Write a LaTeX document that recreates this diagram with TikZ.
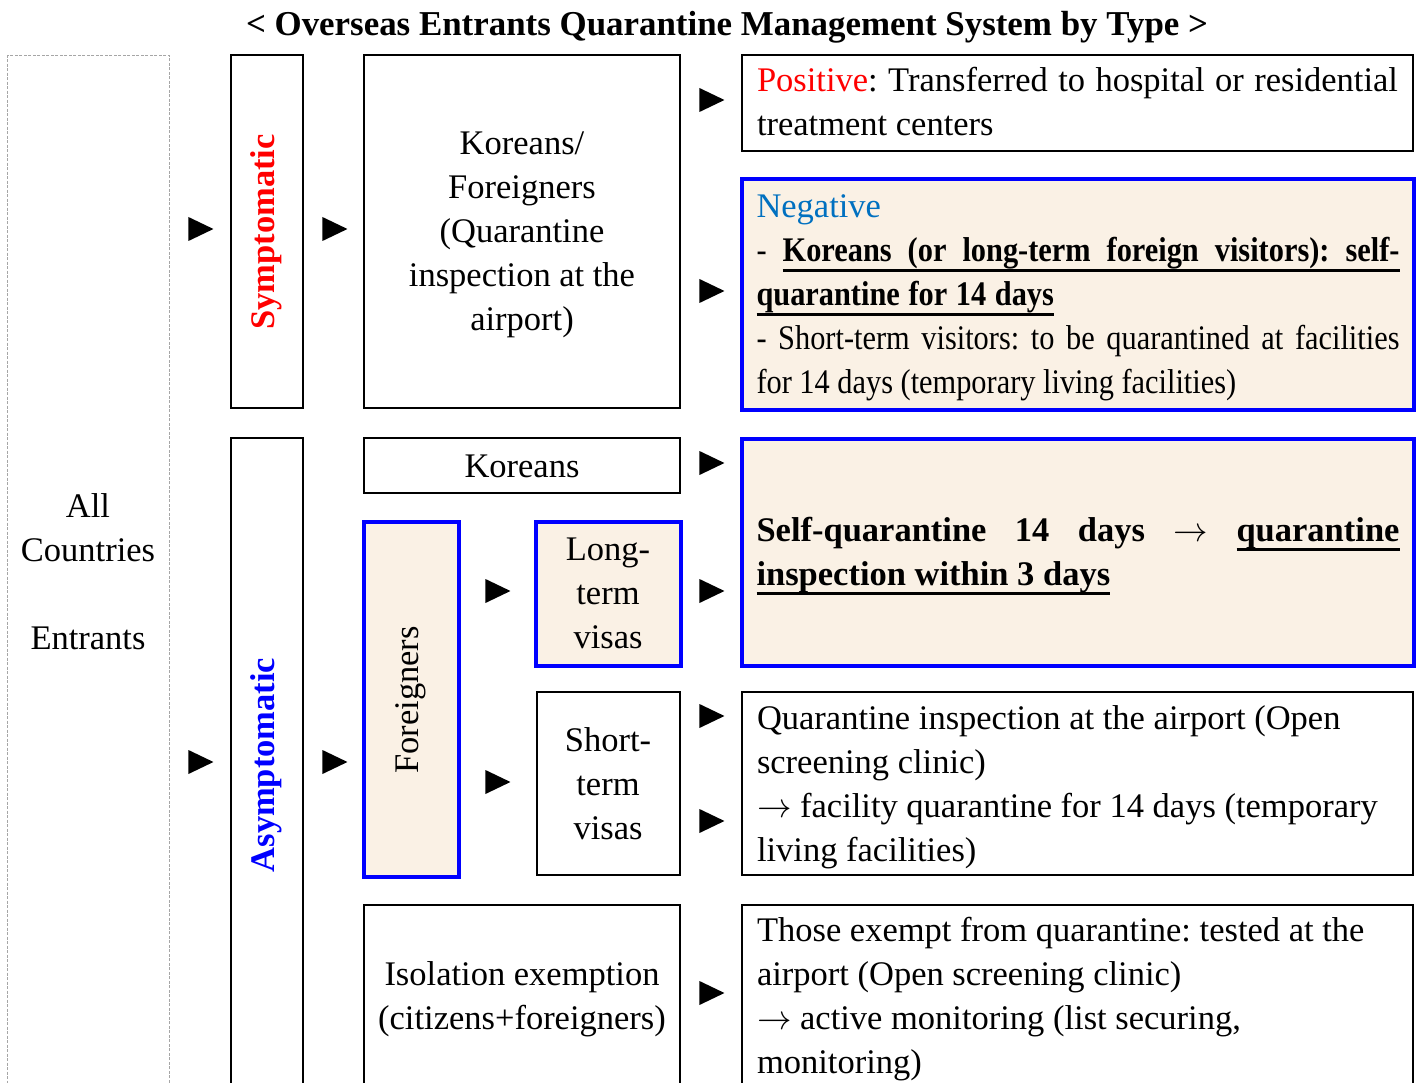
\RequirePackage{fix-cm}
\documentclass[tikz,border=0pt]{standalone}
\usepackage{fontspec}
\setmainfont{Liberation Serif}
\newfontfamily\condfont{Liberation Serif}[FakeStretch=0.88]
\usetikzlibrary{shapes.geometric}
\definecolor{beige}{HTML}{FAF1E5}
\definecolor{negblue}{HTML}{0070C0}
\frenchspacing
\newcommand\uw[1]{\leavevmode\setbox0\hbox{#1}\rlap{\rule[-10pt]{\wd0}{2.8pt}}\box0}
\newcommand\us{\leaders\hrule height -7.2pt depth 10pt\hskip .25em plus 1fil\relax}
\newcommand\un{\leaders\hrule height -7.2pt depth 10pt\hskip .25em\relax}
\newcommand\js{\hskip .25em plus 1fil\relax}
\newcommand\arr{$\rightarrow$}
\begin{document}
\begin{tikzpicture}[x=1pt,y=-1pt,
  every node/.style={font=\fontsize{34.5pt}{44pt}\selectfont},
  box/.style={draw=black, line width=1.3pt, inner sep=0pt, outer sep=0pt, anchor=north west},
  bluebox/.style={draw=blue, line width=3.6pt, fill=beige, inner sep=0pt, outer sep=0pt, anchor=north west},
  graybox/.style={draw=gray!70, line width=1.4pt, dash pattern=on 3pt off 1.5pt, inner sep=0pt, anchor=north west},
  tri/.style={isosceles triangle, isosceles triangle stretches=true, fill=black, inner sep=0pt,
              minimum width=24pt, minimum height=25pt},
  txt/.style={inner sep=0pt, align=center},
  para/.style={inner sep=0pt, text width=641pt, align=flush left}]
\clip (0,0) rectangle (1419,1083);
\useasboundingbox (0,0) rectangle (1419,1083);

% title
\node[txt, font=\fontsize{34.9pt}{44pt}\selectfont\bfseries] (title) at (727,27) {< Overseas Entrants Quarantine Management System by Type >};

% boxes
\node[graybox, minimum width=162pt, minimum height=1045pt] (all) at (7,55) {};
\node[box, minimum width=72pt, minimum height=353pt] (symp) at (231,55) {};
\node[box, minimum width=72pt, minimum height=662pt] (asymp) at (231,438) {};
\node[box, minimum width=316pt, minimum height=353pt] (kf) at (364,55) {};
\node[box, minimum width=671pt, minimum height=96pt] (pos) at (742,55) {};
\node[bluebox, minimum width=672pt, minimum height=231pt] (neg) at (742,179) {};
\node[box, minimum width=316pt, minimum height=55pt] (kor) at (364,438) {};
\node[bluebox, minimum width=95pt, minimum height=355pt] (forg) at (364,522) {};
\node[bluebox, minimum width=145pt, minimum height=144pt] (long) at (536,522) {};
\node[bluebox, minimum width=672pt, minimum height=227pt] (self) at (742,439) {};
\node[box, minimum width=143pt, minimum height=183pt] (short) at (537,692) {};
\node[box, minimum width=671pt, minimum height=183pt] (quar) at (742,692) {};
\node[box, minimum width=316pt, minimum height=195pt] (iso) at (364,905) {};
\node[box, minimum width=671pt, minimum height=195pt] (exempt) at (742,905) {};

% texts
\node[txt] (allt) at (88,572) {All\\Countries\\[44pt]Entrants};
\node[txt, rotate=90, text=red, font=\fontsize{34.5pt}{44pt}\selectfont\bfseries] (sympt) at (266,232) {Symptomatic};
\node[txt, rotate=90, text=blue, font=\fontsize{34.5pt}{44pt}\selectfont\bfseries] (asympt) at (266,765) {Asymptomatic};
\node[txt] (kft) at (522,235) {Koreans/\\Foreigners\\(Quarantine\\inspection at the\\airport)};
\node[para, align=justify] (post) at (1077.5,102) {\textcolor{red}{Positive}: Transferred to hospital or residential treatment centers};
\node[para, text width=643pt, align=justify, font=\fontsize{34.5pt}{44pt}\selectfont\condfont] (negt) at (1078,298) {\textcolor{negblue}{\rmfamily Negative}\\
\hbox to\linewidth{-\js\bfseries\uw{Koreans}\us\uw{(or}\us\uw{long-term}\us\uw{foreign}\us\uw{visitors):}\us\uw{self-}}\\
{\bfseries\uw{quarantine}\un\uw{for}\un\uw{14}\un\uw{days}}\\
\hbox to\linewidth{-\js Short-term\js visitors:\js to\js be\js quarantined\js at\js facilities}\\
for 14 days (temporary living facilities)};
\node[txt] (kort) at (522,466) {Koreans};
\node[txt, rotate=90] (forgt) at (411,700) {Foreigners};
\node[txt] (longt) at (608,593) {Long-\\term\\visas};
\node[para, text width=643pt, font=\fontsize{34.5pt}{44pt}\selectfont\bfseries] (selft) at (1078,556) {\noindent\hbox to\linewidth{Self-quarantine\js 14\js days\js\arr\js\uw{quarantine}}\\
\uw{inspection}\un\uw{within}\un\uw{3}\un\uw{days}};
\node[txt] (shortt) at (608,784) {Short-\\term\\visas};
\node[para] (quart) at (1077.5,787) {Quarantine inspection at the airport (Open\\screening clinic)\\\arr{} facility quarantine for 14 days (temporary\\living facilities)};
\node[txt] (isot) at (522,999) {Isolation exemption\\(citizens+foreigners)};
\node[para] (exemptt) at (1077.5,999) {Those exempt from quarantine: tested at the\\airport (Open screening clinic)\\\arr{} active monitoring (list securing,\\monitoring)};

% triangles
\node[tri] (t1) at (196,229) {};
\node[tri] (t2) at (196,762) {};
\node[tri] (t3) at (330,229) {};
\node[tri] (t4) at (330,762) {};
\node[tri] (t5) at (707,100) {};
\node[tri] (t6) at (707,291) {};
\node[tri] (t7) at (707,463) {};
\node[tri] (t8) at (493,591) {};
\node[tri] (t9) at (493,782) {};
\node[tri] (t10) at (707,591) {};
\node[tri] (t11) at (707,716) {};
\node[tri] (t12) at (707,821) {};
\node[tri] (t13) at (707,993) {};
\end{tikzpicture}
\end{document}
